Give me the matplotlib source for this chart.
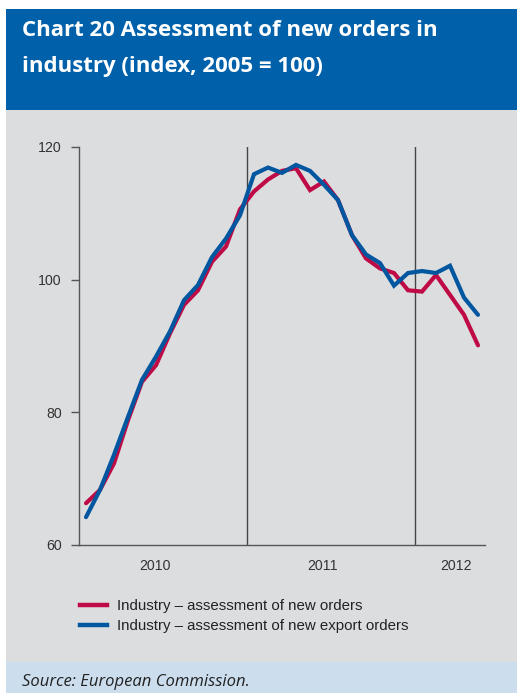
import matplotlib
matplotlib.use("Agg")
import matplotlib.pyplot as plt
from matplotlib.patches import Rectangle
from matplotlib.lines import Line2D

# Monthly data, Jan 2010 - May 2012
new_orders = [66.3, 68.3, 72.3, 78.8, 84.6, 87.1, 91.9, 96.2, 98.4, 102.7,
              105.0, 110.6, 113.3, 115.1, 116.4, 116.8, 113.5, 114.8, 112.0, 106.7,
              103.2, 101.7, 101.0, 98.4, 98.2, 100.7, 97.7, 94.7, 90.1]
export_orders = [64.2, 68.3, 73.6, 79.3, 84.9, 88.4, 92.2, 96.9, 99.2, 103.4,
                 106.2, 109.7, 115.9, 116.9, 116.1, 117.3, 116.4, 114.3, 112.0, 106.7,
                 103.8, 102.5, 99.1, 101.0, 101.3, 101.0, 102.1, 97.3, 94.7]
year_labels = ["2010", "2011", "2012"]
year_label_pos = [5.4, 17.4, 26.9]
year_bounds = [12, 24]
y_ticks = [60, 80, 100, 120]
series_names = ["Industry \u2013 assessment of new orders",
                "Industry \u2013 assessment of new export orders"]

W, H = 517, 693
fig = plt.figure(figsize=(W / 100, H / 100), dpi=100)
fig.patch.set_facecolor("white")

def px_rect(x0, y0, x1, y1, color):
    fig.patches.append(Rectangle((x0 / W, 1 - y1 / H), (x1 - x0) / W, (y1 - y0) / H,
                                 transform=fig.transFigure, facecolor=color,
                                 edgecolor="none", zorder=-10))

px_rect(6, 9, W, 110, "#0061AA")
px_rect(6, 110, W, 662, "#DCDDDF")
px_rect(6, 662, W, H, "#CCDDEE")

fig.text(22 / W, 1 - 36 / H, "Chart 20 Assessment of new orders in", color="white",
         fontsize=16, fontweight="bold", family="Open Sans", va="baseline")
fig.text(22 / W, 1 - 72 / H, "industry (index, 2005 = 100)", color="white",
         fontsize=16, fontweight="bold", family="Open Sans", va="baseline")

ax = fig.add_axes([79 / W, 1 - 545 / H, (485 - 79) / W, (545 - 147) / H])
ax.set_zorder(5)
ax.set_facecolor("none")
x = [i + 0.5 for i in range(len(new_orders))]
red = "#BE0A45"
blue = "#0057A0"
ax.plot(x, new_orders, color=red, lw=3.0, solid_capstyle="round", solid_joinstyle="miter", zorder=3)
ax.plot(x, export_orders, color=blue, lw=3.0, solid_capstyle="round", solid_joinstyle="miter", zorder=4)
for b in year_bounds:
    ax.axvline(b, color="#444444", lw=1.0, zorder=2)
ax.set_xlim(0, 29)
ax.set_ylim(60, 120)
ax.set_yticks(y_ticks)
ax.set_xticks(year_label_pos)
ax.set_xticklabels(year_labels)
for s in ["top", "right"]:
    ax.spines[s].set_visible(False)
for s in ["left", "bottom"]:
    ax.spines[s].set_color("#555555")
    ax.spines[s].set_linewidth(1.0)
ax.tick_params(axis="y", length=6, width=1, color="#555555", labelcolor="#333333",
               labelsize=10.2, pad=6.5)
ax.tick_params(axis="x", length=0, labelcolor="#333333", labelsize=10.2, pad=10)
for lab in ax.get_xticklabels() + ax.get_yticklabels():
    lab.set_family("Liberation Sans")

handles = [Line2D([0], [0], color=red, lw=3.2), Line2D([0], [0], color=blue, lw=3.2)]
leg = fig.legend(handles, series_names, loc="upper left",
                 bbox_to_anchor=(80 / W, 1 - 599 / H), frameon=False,
                 prop={"family": "Liberation Sans", "size": 10.8},
                 handlelength=1.8, handletextpad=0.65, labelspacing=0.42,
                 borderaxespad=0, borderpad=0)
for t in leg.get_texts():
    t.set_color("#222222")

fig.text(22 / W, 1 - 686 / H, "Source: European Commission.", color="#222222",
         fontsize=12, style="italic", family="Open Sans", va="baseline")

fig.savefig("out.png", dpi=100)
